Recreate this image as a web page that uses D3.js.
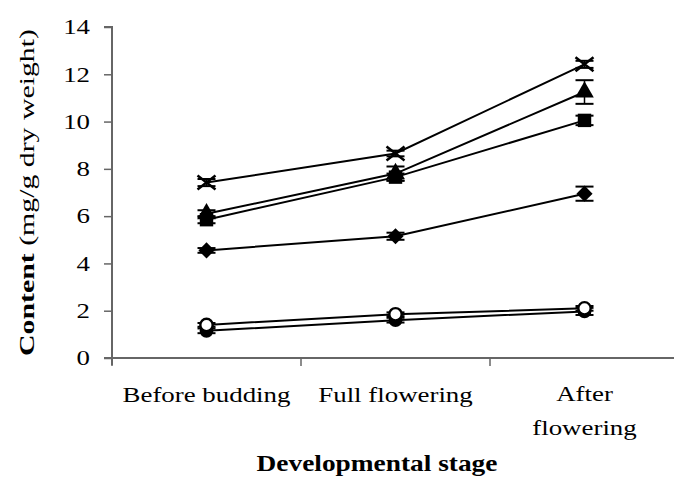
<!DOCTYPE html>
<html><head><meta charset="utf-8">
<script src="https://cdn.jsdelivr.net/npm/d3@7"></script>
<style>body{margin:0;background:#fff}svg{display:block}text{font-family:"Liberation Serif","Times New Roman",serif;fill:#000}</style>
</head><body>
<script>
const categories = ["Before budding", "Full flowering", "After flowering"];
const yTicks = [0, 2, 4, 6, 8, 10, 12, 14];
const filledCircleValues = [1.15, 1.6, 1.97];
const filledCircleErrors = [0.1, 0.1, 0.15];
const openCircleValues = [1.4, 1.85, 2.1];
const openCircleErrors = [0.08, 0.08, 0.1];
const diamondValues = [4.55, 5.15, 6.95];
const diamondErrors = [0.1, 0.15, 0.3];
const squareValues = [5.85, 7.65, 10.05];
const squareErrors = [0.15, 0.15, 0.2];
const triangleValues = [6.1, 7.8, 11.25];
const triangleErrors = [0.15, 0.3, 0.5];
const crossValues = [7.42, 8.65, 12.42];
const crossErrors = [0.15, 0.12, 0.15];

const W = 674, H = 494;
const svg = d3.select("body").append("svg").attr("width", W).attr("height", H);
const x = d3.scaleBand().domain(categories).range([112, 679]);
const y = d3.scaleLinear().domain([0, 14]).range([358, 27]);
const axisColor = "#666";
const SX = 1.28; // horizontal stretch of glyphs

// y axis
const gy = svg.append("g").attr("transform", "translate(112,0)")
  .call(d3.axisLeft(y).tickValues(yTicks).tickSize(8).tickPadding(14).tickFormat(d3.format("d")));
gy.select(".domain").attr("stroke", axisColor).attr("stroke-width", 2).attr("d", `M-8,${y(14)}H0V${y(0)+7}`);
gy.selectAll(".tick line").attr("stroke", axisColor).attr("stroke-width", 1.5);
gy.selectAll(".tick text").style("font-size", "21px").attr("font-family", "Liberation Serif").attr("fill", "#000")
  .attr("transform", `translate(-22,0) scale(${SX},1) translate(22,0)`);

// x axis
svg.append("line").attr("x1", 104).attr("x2", 679).attr("y1", y(0)).attr("y2", y(0))
  .attr("stroke", axisColor).attr("stroke-width", 2);
svg.selectAll(".xtick").data(categories).enter().append("line")
  .attr("x1", d => x(d)).attr("x2", d => x(d)).attr("y1", y(0)).attr("y2", y(0) + 8)
  .attr("stroke", axisColor).attr("stroke-width", 1.5);
const lab = svg.selectAll(".xlab").data(categories).enter().append("text")
  .attr("text-anchor", "middle").style("font-size", "21px")
  .attr("transform", d => `translate(${x(d) + x.bandwidth() / 2},402) scale(${SX},1)`);
lab.each(function(d) {
  const t = d3.select(this);
  if (d === "After flowering") {
    t.append("tspan").attr("x", 0).attr("y", -1).text("After");
    t.append("tspan").attr("x", 0).attr("y", 33).text("flowering");
  } else t.text(d);
});

// axis titles
svg.append("text").attr("transform", `translate(377,471) scale(1.19,1)`).attr("text-anchor", "middle")
  .style("font-size", "23px").style("font-weight", "bold").text("Developmental stage");
const yt = svg.append("text").attr("transform", `translate(34,${(y(0)+y(14))/2}) rotate(-90) scale(1.42,1)`)
  .attr("text-anchor", "middle").style("font-size", "21px");
yt.append("tspan").style("font-weight", "bold").text("Content");
yt.append("tspan").text(" (mg/g dry weight)");

const series = [
  {name: "filledCircle", v: filledCircleValues, e: filledCircleErrors},
  {name: "openCircle", v: openCircleValues, e: openCircleErrors},
  {name: "diamond", v: diamondValues, e: diamondErrors},
  {name: "square", v: squareValues, e: squareErrors},
  {name: "triangle", v: triangleValues, e: triangleErrors},
  {name: "cross", v: crossValues, e: crossErrors}
];
const cx = c => x(c) + x.bandwidth() / 2;
const line = d3.line().x(d => cx(d.c)).y(d => y(d.v));

series.forEach(s => {
  const pts = categories.map((c, i) => ({c, v: s.v[i], e: s.e[i]}));
  svg.append("path").datum(pts).attr("d", line).attr("fill", "none").attr("stroke", "#000").attr("stroke-width", 2);
});
series.forEach(s => {
  const pts = categories.map((c, i) => ({c, v: s.v[i], e: s.e[i]}));
  const g = svg.append("g");
  pts.forEach(p => {
    const X = cx(p.c), Y = y(p.v), y1 = y(p.v + p.e), y2 = y(p.v - p.e);
    g.append("line").attr("x1", X).attr("x2", X).attr("y1", y1).attr("y2", y2).attr("stroke", "#000").attr("stroke-width", 1.5);
    [y1, y2].forEach(yy => g.append("line").attr("x1", X - 9).attr("x2", X + 9).attr("y1", yy).attr("y2", yy).attr("stroke", "#000").attr("stroke-width", 2));
    const m = g.append("path").attr("transform", `translate(${X},${Y})`);
    if (s.name === "cross") {
      m.attr("d", "M-9,-7L9,7M-9,7L9,-7").attr("stroke", "#000").attr("stroke-width", 2.5).attr("fill", "none");
    } else if (s.name === "openCircle") {
      m.attr("d", d3.symbol(d3.symbolCircle, 120)()).attr("fill", "#fff").attr("stroke", "#000").attr("stroke-width", 2.4);
    } else if (s.name === "filledCircle") {
      m.attr("d", d3.symbol(d3.symbolCircle, 150)()).attr("fill", "#000");
    } else if (s.name === "diamond") {
      m.attr("d", d3.symbol(d3.symbolSquare, 130)()).attr("transform", `translate(${X},${Y}) rotate(45)`).attr("fill", "#000");
    } else if (s.name === "square") {
      m.attr("d", d3.symbol(d3.symbolSquare, 180)()).attr("fill", "#000");
    } else {
      m.attr("d", d3.symbol(d3.symbolTriangle, 150)()).attr("fill", "#000");
    }
  });
});
</script>
</body></html>
